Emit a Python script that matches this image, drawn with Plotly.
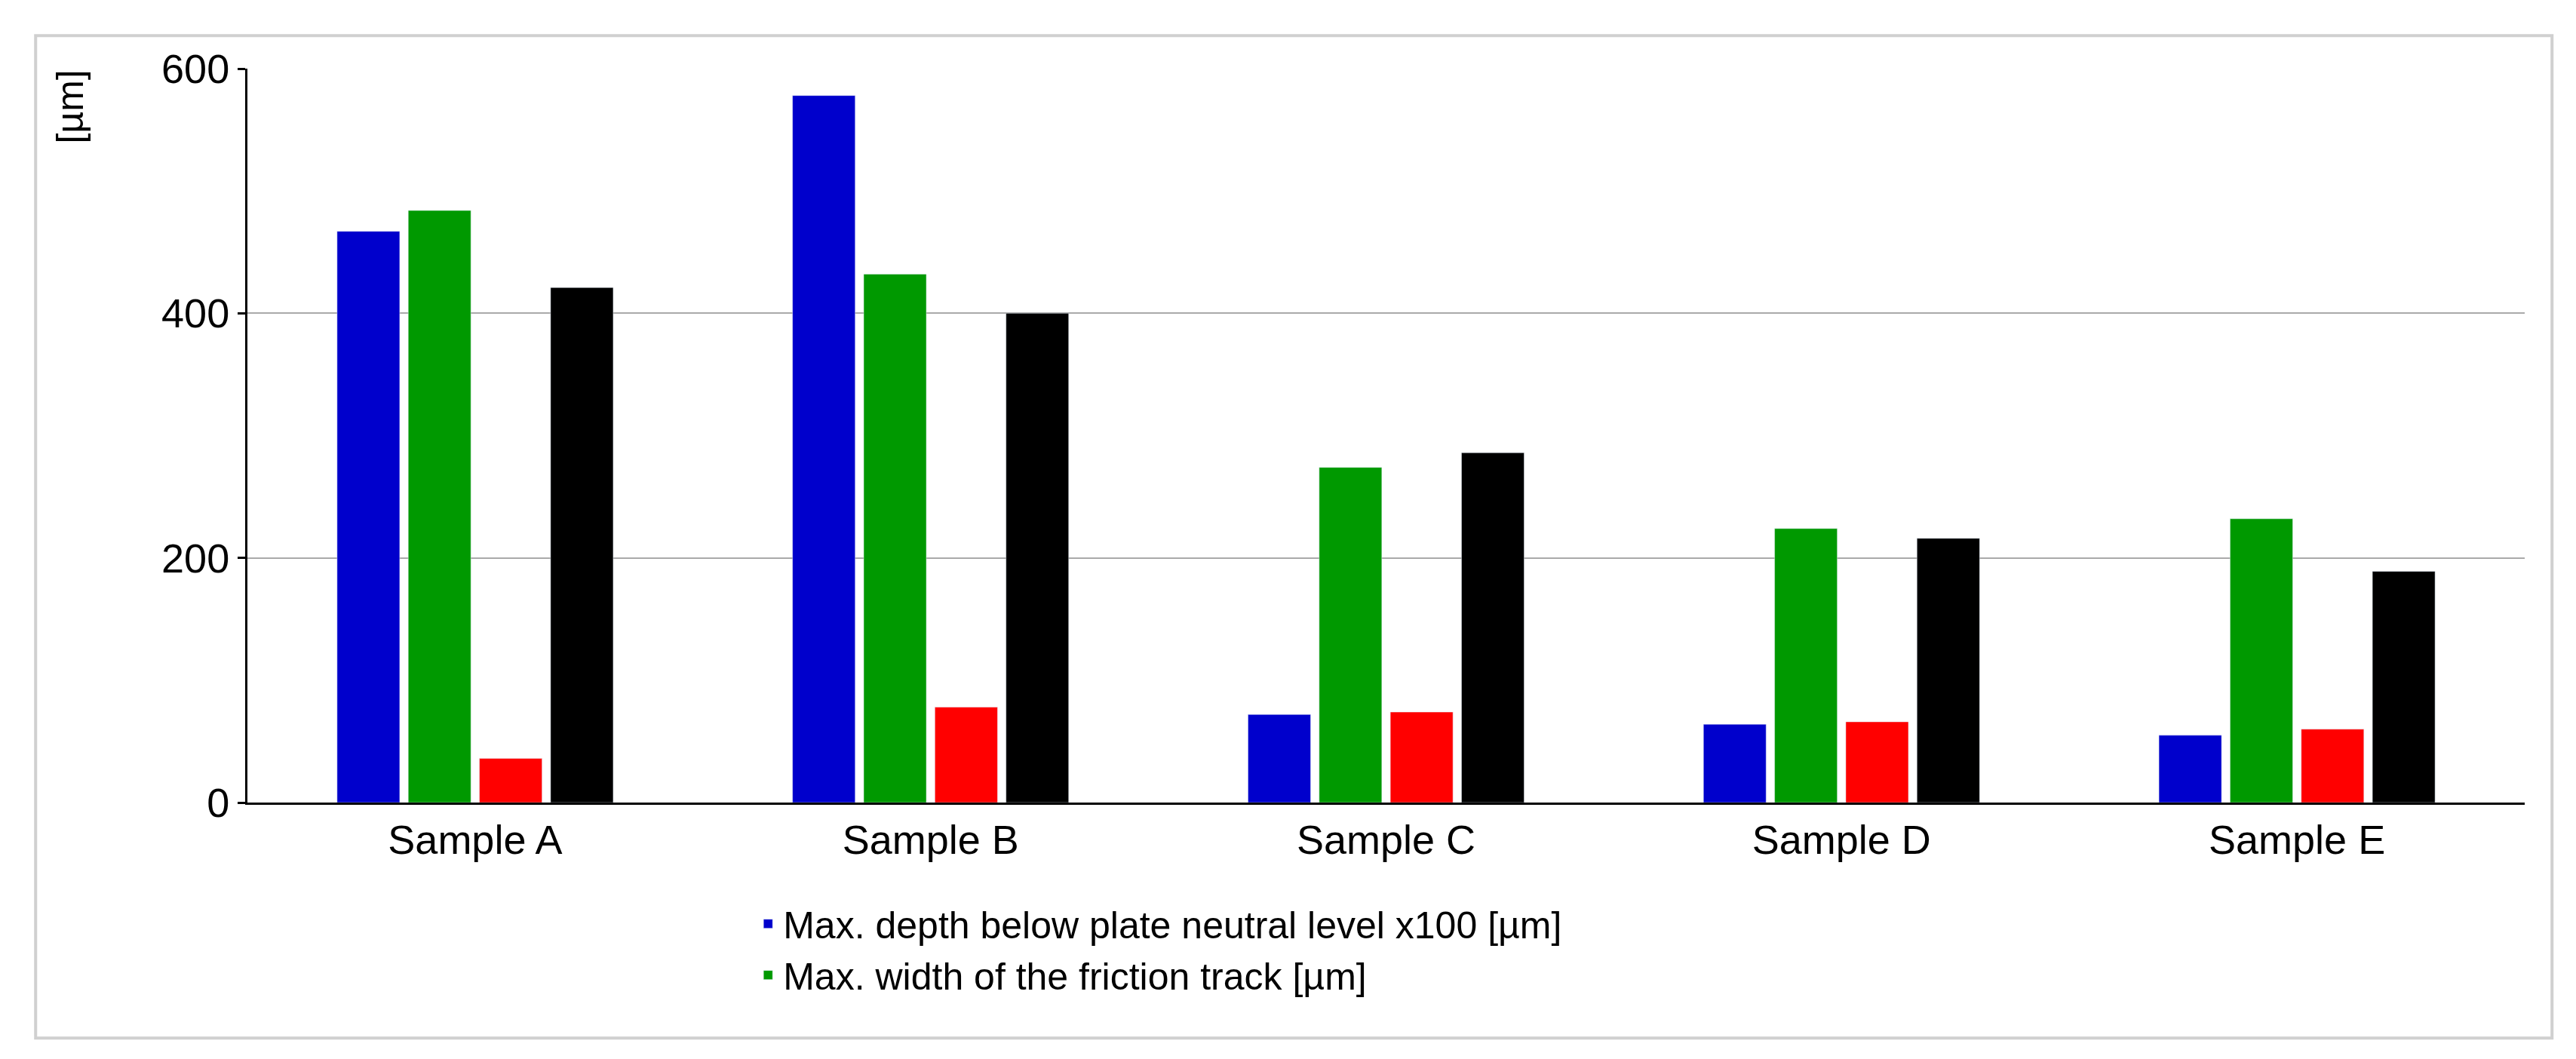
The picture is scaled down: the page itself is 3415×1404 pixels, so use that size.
import plotly.graph_objects as go

categories = ["Sample A", "Sample B", "Sample C", "Sample D", "Sample E"]
depth_x100 = [467, 578, 72, 64, 55]
width_track = [484, 432, 274, 224, 232]
series3 = [36, 78, 74, 66, 60]
series4 = [421, 400, 286, 216, 189]

fig = go.Figure()
fig.add_bar(x=categories, y=depth_x100, marker_color="#0000CC", name="Max. depth below plate neutral level x100 [µm]")
fig.add_bar(x=categories, y=width_track, marker_color="#009900", name="Max. width of the friction track [µm]")
fig.add_bar(x=categories, y=series3, marker_color="#FF0000", showlegend=False)
fig.add_bar(x=categories, y=series4, marker_color="#000000", showlegend=False)

W, H = 3415, 1404
L, R, T, B = 320, 3415 - 3339, 83, 1404 - 1056
fig.update_layout(
    width=W, height=H, paper_bgcolor="white", plot_bgcolor="white",
    margin=dict(l=L, r=R, t=T, b=B),
    barmode="group", bargap=0.375, bargroupgap=0.12,
    font=dict(family="Liberation Sans, Arial", size=54, color="black"),
    legend=dict(x=0.222, y=-0.125, xanchor="left", yanchor="top",
                font=dict(size=50), bgcolor="rgba(0,0,0,0)", tracegroupgap=0,
                itemwidth=30),
    xaxis=dict(showline=True, linecolor="black", linewidth=3, ticks="", tickfont=dict(size=54)),
    yaxis=dict(range=[0, 600], tickvals=[0, 200, 400, 600], showline=True, linecolor="black",
               linewidth=3, gridcolor="#AAAAAA", gridwidth=2, ticks="outside", ticklen=10,
               tickcolor="black", tickwidth=3, tickfont=dict(size=54)),
    shapes=[dict(type="rect", xref="paper", yref="paper", x0=-0.093, x1=1.012, y0=-0.321, y1=1.045,
                 line=dict(color="#D0D0D0", width=4))],
    annotations=[dict(text="[µm]", xref="paper", yref="paper", x=-0.078, y=1.0, textangle=-90,
                      showarrow=False, xanchor="center", yanchor="top", font=dict(size=50))],
)
fig.write_html("out.html")
